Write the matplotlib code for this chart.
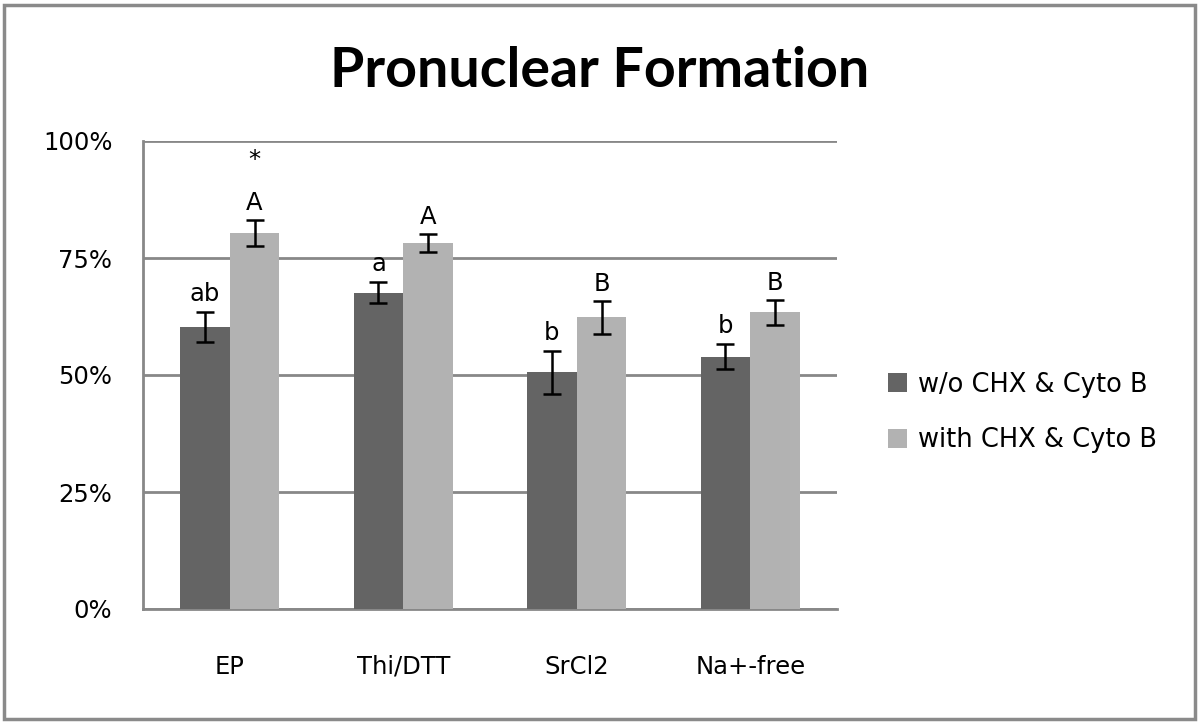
import numpy as np
import matplotlib.pyplot as plt
from matplotlib.patches import Rectangle

categories = ['EP', 'Thi/DTT', 'SrCl2', 'Na+-free']
series_names = ['w/o CHX & Cyto B', 'with CHX & Cyto B']
without_vals = [60.2, 67.6, 50.6, 53.9]
without_err = [3.2, 2.2, 4.6, 2.7]
with_vals = [80.4, 78.2, 62.3, 63.4]
with_err = [2.8, 1.9, 3.5, 2.7]
without_letters = ['ab', 'a', 'b', 'b']
with_letters = ['A', 'A', 'B', 'B']
star_marks = ['*', '', '', '']
y_ticks = [0, 25, 50, 75, 100]

dark = '#646464'
light = '#b2b2b2'
grid_c = '#888888'
fs = 17.5

fig = plt.figure(figsize=(12, 7.23), dpi=100)
ax = fig.add_axes([143 / 1200, 1 - 609 / 723, (837 - 143) / 1200, (609 - 141) / 723])

x = np.arange(len(categories))
w = 0.286
ekw = dict(ecolor='black', elinewidth=1.8, capsize=6.5, capthick=1.8)
ax.bar(x - w / 2, without_vals, w, color=dark, yerr=without_err, error_kw=ekw,
       label=series_names[0], zorder=3)
ax.bar(x + w / 2, with_vals, w, color=light, yerr=with_err, error_kw=ekw,
       label=series_names[1], zorder=3)

# significance letters
for i in range(len(categories)):
    ax.annotate(without_letters[i], (x[i] - w / 2, without_vals[i] + without_err[i]),
                xytext=(0, 8), textcoords='offset points', ha='center', va='baseline',
                fontsize=fs, color='black')
    ax.annotate(with_letters[i], (x[i] + w / 2, with_vals[i] + with_err[i]),
                xytext=(0, 7), textcoords='offset points', ha='center', va='baseline',
                fontsize=fs, color='black')
    if star_marks[i]:
        ax.annotate(star_marks[i], (x[i] + w / 2, with_vals[i] + with_err[i]),
                    xytext=(0, 38), textcoords='offset points', ha='center',
                    va='baseline', fontsize=fs, color='black')

ax.set_xlim(-0.5, 3.5)
ax.set_ylim(0, 100)
ax.set_yticks(y_ticks)
ax.set_yticklabels([f'{v}%' for v in y_ticks])
ax.set_xticks(x)
ax.set_xticklabels(categories)
ax.tick_params(axis='both', length=0, labelsize=fs, colors='black')
ax.tick_params(axis='x', pad=33)
ax.tick_params(axis='y', pad=22)
ax.yaxis.grid(True, color=grid_c, linewidth=2, zorder=0)
ax.set_axisbelow(True)
for s in ['top', 'right']:
    ax.spines[s].set_visible(False)
for s in ['left', 'bottom']:
    ax.spines[s].set_color(grid_c)
    ax.spines[s].set_linewidth(2)

fig.text(0.5, 1 - 71 / 723, 'Pronuclear Formation', ha='center', va='center',
         fontsize=40, fontweight='bold', family=['Lato', 'DejaVu Sans'])

fig.legend(loc='center left', bbox_to_anchor=(888 / 1200, 1 - 412.5 / 723),
           frameon=False, fontsize=18.5, borderpad=0, borderaxespad=0,
           handlelength=0.75, handleheight=0.75, handletextpad=0.4,
           labelspacing=1.15)

fig.patches.append(Rectangle((4 / 1200, 4 / 723), 1 - 9 / 1200, 1 - 9 / 723,
                             transform=fig.transFigure, fill=False,
                             edgecolor='#8a8a8a', linewidth=2.5))

plt.savefig('out.png', dpi=100)
